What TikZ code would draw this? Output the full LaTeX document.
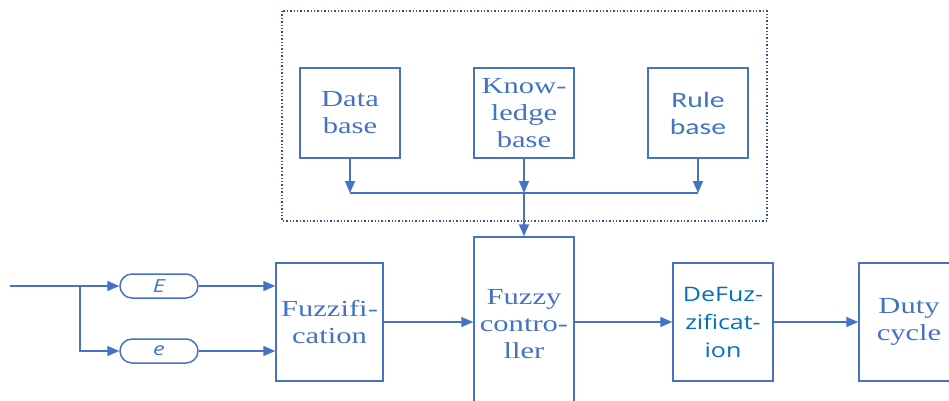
\documentclass[tikz,border=0pt]{standalone}
\usepackage{fontspec}
\usetikzlibrary{arrows.meta}
\newfontfamily\wideserif[FakeStretch=1.33]{Liberation Serif}
\newfontfamily\widesans[FakeStretch=1.35]{Carlito}
\newfontfamily\defuzfont[FakeStretch=1.25]{Open Sans}
\newfontfamily\signalfont[FakeStretch=1.3]{Open Sans}
\definecolor{lineblue}{HTML}{4472C4}
\definecolor{textblue}{HTML}{0070C0}
\definecolor{frameblue}{HTML}{2F5597}
\tikzset{
  block/.style={draw=lineblue, line width=1.5pt, inner sep=0pt, align=center,
    text=lineblue, font=\wideserif\fontsize{23}{27}\selectfont},
  topbox/.style={block, minimum width=100pt, minimum height=90pt},
  pill/.style={draw=lineblue, line width=1.5pt, rounded corners=12pt, inner sep=0pt,
    minimum width=78pt, minimum height=24pt, text=lineblue,
    font=\signalfont\itshape\fontsize{18}{22}\selectfont},
  flow/.style={draw=lineblue, line width=1.6pt, -{Triangle[length=12pt,width=10pt]}},
  wire/.style={draw=lineblue, line width=1.6pt},
}
\begin{document}
\begin{tikzpicture}[x=1pt,y=-1pt]
\useasboundingbox (0,0) rectangle (949,400);
\clip (0,0) rectangle (949,400);

% knowledge block enclosure
\draw[frameblue, line width=1.4pt, dash pattern=on 1.4pt off 2pt] (282,11) rectangle (767,221);

% bases
\node[topbox] (data) at (350,113) {Data\\base};
\node[topbox] (know) at (524,113) {Know-\\ledge\\base};
\node[topbox, font=\widesans\fontsize{22}{27}\selectfont] (rule) at (698,113) {Rule\\base};

% main chain
\node[block, minimum width=100pt, minimum height=175pt] (fc) at (524,324.5) {Fuzzy\\contro-\\ller};
\node[block, minimum width=107pt, minimum height=118pt] (fuzzif) at (329.5,322) {Fuzzifi-\\cation};
\node[block, minimum width=100pt, minimum height=118pt, text=textblue,
  font=\defuzfont\fontsize{20}{28}\selectfont] (defuz) at (723,322) {DeFuz-\\zificat-\\ion};
\node[block, minimum width=100pt, minimum height=118pt] (duty) at (909,322) {Duty\\cycle};

% input signals
\node[pill] (E) at (159,286) {E};
\node[pill] (e) at (159,351) {e};

\coordinate (in) at (10,286);
\coordinate (split) at (80,286);
\coordinate (busL) at (350,193);
\coordinate (busM) at (524,193);
\coordinate (busR) at (698,193);

% base outputs merged into one bus
\draw[flow] (data.south) -- (busL);
\draw[flow] (know.south) -- (busM);
\draw[flow] (rule.south) -- (busR);
\draw[wire] (busL) -- (busR);
\draw[flow] (busM) -- (fc.north);

% input branching
\draw[wire] (in) -- (split);
\draw[flow] (split) -- (E.west);
\draw[flow] (split) |- (e.west);
\draw[flow] (E.east) -- (E.east -| fuzzif.west);
\draw[flow] (e.east) -- (e.east -| fuzzif.west);

% processing chain
\draw[flow] (fuzzif.east) -- (fuzzif.east -| fc.west);
\draw[flow] (fc.east |- defuz.west) -- (defuz.west);
\draw[flow] (defuz.east) -- (duty.west);
\end{tikzpicture}
\end{document}
